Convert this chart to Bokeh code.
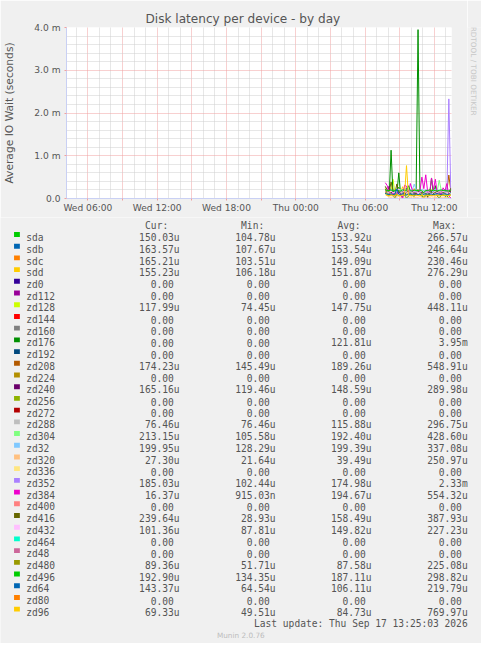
import math
from bokeh.plotting import figure
from bokeh.models import Range1d, FixedTicker, Title
from bokeh.layouts import column, row
from bokeh.core.properties import value
from bokeh.embed import file_html
from bokeh.resources import INLINE

# ---------------- data (values in microseconds) ----------------
START_HOUR = 31.75          # Thu 07:45, in hours since Wed 00:00
STEP_MINUTES = 10

sda   = [180, 150, 130, 145, 160, 125, 140, 266.57, 150, 135, 120, 145, 170, 155, 130, 140, 165, 150, 185, 140, 125, 160, 175, 150, 104.78, 135, 160, 190, 145, 130, 155, 170, 140, 165, 150.03]
sdb   = [140, 160, 135, 150, 170, 145, 130, 155, 165, 140, 150, 246.64, 160, 135, 145, 170, 150, 140, 155, 165, 130, 107.67, 150, 175, 160, 145, 135, 155, 170, 150, 140, 160, 145, 155, 163.57]
sdc   = [130, 145, 160, 140, 125, 150, 165, 135, 145, 155, 140, 130, 160, 150, 135, 230.46, 145, 140, 155, 160, 135, 150, 145, 103.51, 140, 165, 150, 135, 155, 145, 160, 140, 150, 135, 165.21]
sdd   = [150, 135, 165, 145, 155, 140, 130, 160, 150, 276.29, 145, 135, 155, 165, 140, 150, 130, 145, 160, 155, 135, 150, 140, 165, 145, 106.18, 155, 150, 140, 160, 145, 135, 155, 150, 155.23]
zd128 = [200, 140, 120, 160, 448.11, 130, 110, 150, 140, 125, 170, 135, 115, 145, 160, 120, 130, 180, 140, 74.45, 125, 155, 140, 130, 210, 135, 120, 145, 160, 130, 140, 125, 150, 135, 117.99]
zd176 = [120, 90, 60, 1130, 80, 0, 110, 600, 70, 40, 90, 0, 60, 100, 80, 50, 120, 3950, 90, 60, 0, 80, 110, 70, 480, 90, 300, 60, 0, 80, 100, 50, 70, 0, 0]
zd208 = [210, 180, 165, 195, 230, 175, 160, 185, 200, 170, 190, 215, 180, 165, 195, 175, 185, 205, 170, 160, 190, 180, 145.49, 200, 185, 170, 195, 210, 175, 185, 165, 190, 180, 548.91, 174.23]
zd240 = [160, 140, 289.98, 135, 150, 145, 130, 155, 140, 125, 150, 145, 135, 160, 140, 130, 150, 145, 155, 140, 119.46, 145, 150, 135, 160, 145, 140, 155, 130, 145, 150, 140, 135, 150, 165.16]
zd288 = [296.75, 150, 120, 110, 130, 100, 115, 105, 125, 110, 95, 120, 105, 115, 130, 100, 110, 95, 120, 105, 115, 100, 125, 110, 90, 105, 115, 100, 120, 95, 110, 105, 90, 100, 76.46]
zd304 = [220, 180, 160, 200, 240, 170, 150, 190, 210, 175, 160, 195, 230, 180, 165, 200, 185, 170, 210, 190, 175, 160, 200, 185, 105.58, 190, 215, 180, 428.60, 200, 175, 190, 165, 185, 213.15]
zd32  = [230, 200, 185, 210, 190, 175, 205, 220, 195, 180, 210, 200, 185, 215, 190, 337.08, 205, 180, 195, 210, 185, 200, 190, 175, 128.29, 195, 210, 200, 185, 205, 190, 215, 195, 180, 199.95]
zd320 = [250.97, 60, 35, 30, 40, 28, 32, 45, 30, 25, 35, 40, 28, 30, 38, 25, 32, 30, 42, 28, 21.64, 30, 35, 28, 40, 32, 26, 30, 35, 28, 33, 25, 30, 28, 27.30]
zd352 = [190, 160, 150, 175, 140, 165, 155, 180, 145, 160, 170, 150, 135, 165, 175, 150, 160, 145, 170, 155, 140, 165, 150, 160, 102.44, 155, 170, 145, 160, 150, 165, 140, 155, 2330, 185.03]
zd384 = [370, 300, 120, 80, 150, 60, 100, 200, 90, 0.915, 310, 290, 120, 350, 200, 100, 80, 160, 180, 500, 230, 554.32, 150, 120, 480, 200, 450, 100, 160, 80, 250, 180, 350, 60, 16.37]
zd416 = [280, 200, 150, 387.93, 180, 120, 340, 150, 130, 160, 100, 140, 170, 120, 150, 130, 110, 160, 140, 120, 150, 130, 28.93, 160, 140, 120, 150, 170, 130, 140, 160, 120, 150, 130, 239.64]
zd432 = [160, 140, 150, 170, 135, 145, 155, 227.23, 140, 150, 165, 130, 145, 155, 140, 160, 150, 135, 145, 170, 150, 140, 155, 145, 87.81, 150, 160, 140, 155, 145, 165, 150, 140, 155, 101.36]
zd480 = [225.08, 110, 80, 90, 75, 85, 95, 70, 80, 90, 85, 75, 95, 80, 70, 90, 85, 80, 95, 75, 51.71, 85, 90, 80, 75, 95, 85, 70, 90, 80, 85, 75, 90, 80, 89.36]
zd496 = [210, 180, 190, 200, 175, 185, 195, 180, 170, 205, 190, 185, 298.82, 180, 175, 195, 190, 185, 200, 175, 134.35, 190, 185, 200, 180, 195, 185, 175, 190, 200, 185, 195, 180, 175, 192.90]
zd64  = [120, 100, 95, 110, 90, 105, 219.79, 100, 95, 110, 105, 90, 100, 115, 95, 105, 100, 90, 110, 64.54, 100, 105, 95, 110, 100, 90, 105, 115, 100, 95, 110, 105, 100, 95, 143.37]
zd96  = [90, 70, 65, 80, 75, 60, 85, 70, 65, 75, 80, 769.97, 70, 65, 75, 60, 80, 70, 65, 75, 49.51, 70, 80, 65, 75, 70, 60, 75, 70, 65, 80, 70, 65, 75, 69.33]
ZERO  = [0.0] * len(sda)   # devices that reported 0.00 throughout

NAMES = ["sda", "sdb", "sdc", "sdd", "zd0", "zd112", "zd128", "zd144", "zd160", "zd176",
         "zd192", "zd208", "zd224", "zd240", "zd256", "zd272", "zd288", "zd304", "zd32",
         "zd320", "zd336", "zd352", "zd384", "zd400", "zd416", "zd432", "zd464", "zd48",
         "zd480", "zd496", "zd64", "zd80", "zd96"]
SERIES = [sda, sdb, sdc, sdd, ZERO, ZERO, zd128, ZERO, ZERO, zd176,
          ZERO, zd208, ZERO, zd240, ZERO, ZERO, zd288, zd304, zd32,
          zd320, ZERO, zd352, zd384, ZERO, zd416, zd432, ZERO, ZERO,
          zd480, zd496, zd64, ZERO, zd96]
COLORS = ["#00CC00", "#0066B3", "#FF8000", "#FFCC00", "#330099", "#990099", "#CCFF00",
          "#FF0000", "#808080", "#008F00", "#00487D", "#B35A00", "#B38F00", "#6B006B",
          "#8FB300", "#B30000", "#BEBEBE", "#80FF80", "#80C9FF", "#FFC080", "#FFE680",
          "#AA80FF", "#EE00CC", "#FF8080", "#666600", "#FFBFFF", "#00FFCC", "#CC6699",
          "#999900", "#00CC00", "#0066B3", "#FF8000", "#FFCC00"]

CUR = ["150.03u", "163.57u", "165.21u", "155.23u", "0.00", "0.00", "117.99u", "0.00", "0.00", "0.00",
       "0.00", "174.23u", "0.00", "165.16u", "0.00", "0.00", "76.46u", "213.15u", "199.95u",
       "27.30u", "0.00", "185.03u", "16.37u", "0.00", "239.64u", "101.36u", "0.00", "0.00",
       "89.36u", "192.90u", "143.37u", "0.00", "69.33u"]
MIN = ["104.78u", "107.67u", "103.51u", "106.18u", "0.00", "0.00", "74.45u", "0.00", "0.00", "0.00",
       "0.00", "145.49u", "0.00", "119.46u", "0.00", "0.00", "76.46u", "105.58u", "128.29u",
       "21.64u", "0.00", "102.44u", "915.03n", "0.00", "28.93u", "87.81u", "0.00", "0.00",
       "51.71u", "134.35u", "64.54u", "0.00", "49.51u"]
AVG = ["153.92u", "153.54u", "149.09u", "151.87u", "0.00", "0.00", "147.75u", "0.00", "0.00", "121.81u",
       "0.00", "189.26u", "0.00", "148.59u", "0.00", "0.00", "115.88u", "192.40u", "199.39u",
       "39.49u", "0.00", "174.98u", "194.67u", "0.00", "158.49u", "149.82u", "0.00", "0.00",
       "87.58u", "187.11u", "106.11u", "0.00", "84.73u"]
MAX = ["266.57u", "246.64u", "230.46u", "276.29u", "0.00", "0.00", "448.11u", "0.00", "0.00", "3.95m",
       "0.00", "548.91u", "0.00", "289.98u", "0.00", "0.00", "296.75u", "428.60u", "337.08u",
       "250.97u", "0.00", "2.33m", "554.32u", "0.00", "387.93u", "227.23u", "0.00", "0.00",
       "225.08u", "298.82u", "219.79u", "0.00", "769.97u"]
HEADERS = ["Cur:", "Min:", "Avg:", "Max:"]

X_TICKS = [6, 9, 12, 15, 18, 21, 24, 27, 30, 33, 36]
X_TICK_LABELS = ["Wed 06:00", "", "Wed 12:00", "", "Wed 18:00", "", "Thu 00:00", "", "Thu 06:00", "", "Thu 12:00"]
Y_TICKS = [0, 0.001, 0.002, 0.003, 0.004]
Y_TICK_LABELS = ["0.0", "1.0 m", "2.0 m", "3.0 m", "4.0 m"]

TITLE = "Disk latency per device - by day"
Y_LABEL = "Average IO Wait (seconds)"
WATERMARK = "RRDTOOL / TOBI OETIKER"
LAST_UPDATE = "Last update: Thu Sep 17 13:25:03 2026"
FOOTER = "Munin 2.0.76"

# ---------------- style ----------------
BG = "#F0F0F0"
AXIS_COL = "#C9D0F4"
MGRID = "#F0A0A0"
GRID = "#CFCFCF"
TXT = "#555555"
SANS = "DejaVu Sans"
MONO = "DejaVu Sans Mono"

W, H = 481, 643                 # whole page (reference is 497 x 659, scaled to fit)
SX, SY = W / 497.0, H / 659.0

X_START, X_END = 4.15, 37.48
Y_START, Y_END = 0.0, 0.004

TOP_H = 217                     # height of graph row
MAIN_W = 467                    # width of main graph figure
WM_W = W - MAIN_W               # watermark strip

# ---------------- main graph ----------------
p = figure(width=MAIN_W, height=TOP_H, x_range=Range1d(X_START, X_END), y_range=Range1d(Y_START, Y_END),
           output_backend="svg", toolbar_location=None,
           min_border_left=64, min_border_right=MAIN_W - 451, min_border_top=27, min_border_bottom=19,
           background_fill_color="#FFFFFF", border_fill_color=BG, outline_line_color=None)

p.title = Title(text=TITLE, align="left", offset=79, standoff=3, vertical_align="bottom",
                text_font=SANS, text_font_size="12.1px", text_font_style="normal", text_color=TXT)

xt = FixedTicker(ticks=X_TICKS, minor_ticks=[h for h in range(5, 38) if h % 3 != 0])
yt = FixedTicker(ticks=Y_TICKS, minor_ticks=[k * 0.0002 for k in range(1, 20) if k % 5 != 0])
p.xaxis.ticker = xt
p.yaxis.ticker = yt
p.xgrid.ticker = xt
p.ygrid.ticker = yt
p.xaxis.major_label_overrides = dict(zip(X_TICKS, X_TICK_LABELS))
p.yaxis.major_label_overrides = dict(zip(Y_TICKS, Y_TICK_LABELS))

for ax in (p.xaxis, p.yaxis):
    ax.axis_line_color = AXIS_COL
    ax.major_tick_line_color = MGRID
    ax.major_tick_out = 2
    ax.major_tick_in = 0
    ax.minor_tick_out = 0
    ax.minor_tick_in = 0
    ax.major_label_text_font = SANS
    ax.major_label_text_font_size = "9.1px"
    ax.major_label_text_color = TXT
p.xaxis.major_label_standoff = 2
p.yaxis.major_label_standoff = 4
p.yaxis.axis_label = Y_LABEL
p.yaxis.axis_label_text_font = SANS
p.yaxis.axis_label_text_font_size = "10.7px"
p.yaxis.axis_label_text_font_style = "normal"
p.yaxis.axis_label_text_color = TXT
p.yaxis.axis_label_standoff = 15

for g in (p.xgrid, p.ygrid):
    g.grid_line_color = MGRID
    g.grid_line_dash = "1 1"
    g.minor_grid_line_color = GRID
    g.minor_grid_line_dash = "1 1"

T = [START_HOUR + i * STEP_MINUTES / 60.0 for i in range(len(sda))]
for vals, col in zip(SERIES, COLORS):
    p.line(T, [v * 1e-6 for v in vals], line_color=col, line_width=1)

# ---------------- watermark strip (reference-pixel coordinates) ----------------
wm = figure(width=WM_W, height=TOP_H, x_range=Range1d(497 - WM_W / SX, 497), y_range=Range1d(TOP_H / SY, 0),
            output_backend="svg", toolbar_location=None, min_border=0,
            x_axis_type=None, y_axis_type=None,
            background_fill_color=BG, border_fill_color=BG, outline_line_color=None)
wm.grid.visible = False
wm.text(x=[488.7], y=[53.5], text=[WATERMARK], angle=-math.pi / 2, text_font=value(SANS),
        text_font_size="7.3px", text_color="#C8C8C8", text_align="center", text_baseline="middle")

# ---------------- legend (reference-pixel coordinates) ----------------
LEG_H = H - TOP_H
leg = figure(width=W, height=LEG_H, x_range=Range1d(0, 497), y_range=Range1d(659, TOP_H / SY),
             output_backend="svg", toolbar_location=None, min_border=0,
             x_axis_type=None, y_axis_type=None,
             background_fill_color=BG, border_fill_color=BG, outline_line_color=None)
leg.grid.visible = False

MONO_SIZE = "9.6px"
ROW0 = 243.0
ROW_H = 12.0
CHAR_W = 5.97
n = len(NAMES)
base = [ROW0 + ROW_H * i for i in range(n)]
centers = [b - 3.2 for b in base]

leg.rect(x=[17] * n, y=centers, width=6, height=5, fill_color=COLORS, line_color=None)
leg.text(x=[26.5] * n, y=base, text=NAMES, text_font=value(MONO), text_font_size=MONO_SIZE,
         text_color=TXT, text_align="left", text_baseline="alphabetic")

COL_RIGHT = [185.0, 284.3, 383.3, 482.7]
for col_vals, right in zip([CUR, MIN, AVG, MAX], COL_RIGHT):
    xs = [right - (0 if s[-1].isalpha() else CHAR_W) for s in col_vals]
    leg.text(x=xs, y=base, text=col_vals, text_font=value(MONO), text_font_size=MONO_SIZE,
             text_color=TXT, text_align="right", text_baseline="alphabetic")

leg.text(x=[149.4, 248.6, 348.2, 447.0], y=[ROW0 - ROW_H] * 4, text=HEADERS, text_font=value(MONO),
         text_font_size=MONO_SIZE, text_color=TXT, text_align="left", text_baseline="alphabetic")
leg.text(x=[482.7], y=[639.0], text=[LAST_UPDATE], text_font=value(MONO), text_font_size=MONO_SIZE,
         text_color=TXT, text_align="right", text_baseline="alphabetic")
leg.text(x=[248.3], y=[650.5], text=[FOOTER], text_font=value(SANS), text_font_size="7.3px",
         text_color="#BDBDBD", text_align="center", text_baseline="alphabetic")

layout = column(row(p, wm, spacing=0), leg, spacing=0)
open("out.html", "w").write(file_html(layout, INLINE))
